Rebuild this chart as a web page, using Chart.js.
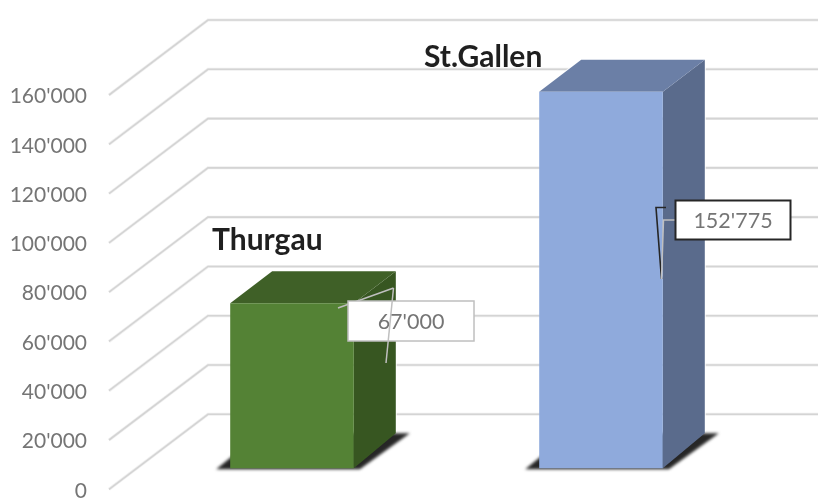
<!DOCTYPE html>
<html>
<head>
<meta charset="utf-8">
<style>html,body{margin:0;padding:0;background:#fff}canvas{display:block}</style>
<script src="https://cdn.jsdelivr.net/npm/chart.js@4"></script>
</head>
<body>
<canvas id="c" width="818" height="498"></canvas>
<script>
const categories = ['Thurgau', 'St.Gallen'];
const values = [67000, 152775];
const tickValues = [0, 20000, 40000, 60000, 80000, 100000, 120000, 140000, 160000];
const frontColors = ['#548235', '#8faadc'];
const topColors = ['#3f6027', '#6b7fa6'];
const sideColors = ['#375621', '#5a6b8c'];
const labelBorders = ['#bfbfbf', '#262626'];

const fmt = v => String(v).replace(/\B(?=(\d{3})+$)/g, "'");
const FONT = 'Lato, Carlito, "Open Sans", sans-serif';
const WALL = { dx: 99, dy: -75 };
const BAR = { dx: 42, topDy: -32, bottomDy: -35 };
const BAR_PLANE_SHIFT = 8500; // value units: bars stand further back than the labelled front edge

function poly(ctx, pts, fill) {
  ctx.beginPath();
  pts.forEach((p, i) => i ? ctx.lineTo(p[0], p[1]) : ctx.moveTo(p[0], p[1]));
  ctx.closePath();
  ctx.fillStyle = fill;
  ctx.fill();
}
function line(ctx, pts, color, w) {
  ctx.beginPath();
  pts.forEach((p, i) => i ? ctx.lineTo(p[0], p[1]) : ctx.moveTo(p[0], p[1]));
  ctx.strokeStyle = color;
  ctx.lineWidth = w;
  ctx.lineJoin = 'miter';
  ctx.stroke();
}

const cube = {
  id: 'cube',
  beforeDatasetsDraw(chart) {
    const ctx = chart.ctx, y = chart.scales.y;
    ctx.save();
    tickValues.forEach(v => {
      const py = y.getPixelForValue(v);
      const x0 = chart.chartArea.left - 28.5;
      ctx.lineCap = 'butt';
      const pts = [[x0, py], [x0 + WALL.dx, py + WALL.dy], [chart.width, py + WALL.dy]];
      line(ctx, pts, 'rgba(190,190,190,0.25)', 3);
      line(ctx, pts, '#d4d4d4', 1.6);
    });
    const bars = chart.getDatasetMeta(0).data;
    bars.forEach((b, i) => {
      const l = b.x - b.width / 2, r = b.x + b.width / 2, t = b.y, base = b.base;
      ctx.save();
      ctx.filter = 'blur(1.4px)';
      poly(ctx, [[l - 14, base + 1], [r + 6, base + 1], [r + 56, base + BAR.bottomDy], [l + 30, base + BAR.bottomDy]], '#262626');
      ctx.restore();
      const side = [[r, t], [r + BAR.dx, t + BAR.topDy], [r + BAR.dx, base + BAR.bottomDy], [r, base]];
      const top = [[l, t], [l + BAR.dx, t + BAR.topDy], [r + BAR.dx, t + BAR.topDy], [r, t]];
      ctx.save();
      ctx.strokeStyle = 'rgba(255,255,255,0.85)';
      ctx.lineWidth = 2;
      ctx.beginPath();
      ctx.moveTo(l, t); ctx.lineTo(l + BAR.dx, t + BAR.topDy); ctx.lineTo(r + BAR.dx, t + BAR.topDy);
      ctx.lineTo(r + BAR.dx, base + BAR.bottomDy - 2);
      ctx.stroke();
      ctx.restore();
      poly(ctx, side, sideColors[i]);
      poly(ctx, top, topColors[i]);
    });
    ctx.restore();
  },
  afterDatasetsDraw(chart) {
    const ctx = chart.ctx;
    ctx.save();
    ctx.textBaseline = 'middle';
    ctx.font = 'bold 30px ' + FONT;
    ctx.fillStyle = '#1f1f1f';
    ctx.textAlign = 'left';
    const nameAnchors = [[212, 240], [424, 57]];
    categories.forEach((c, i) => ctx.fillText(c, nameAnchors[i][0], nameAnchors[i][1]));

    line(ctx, [[338, 308], [393.5, 288]], '#bfbfbf', 1.5);
    ctx.fillStyle = '#fff';
    ctx.fillRect(348, 301, 126, 40);
    ctx.strokeStyle = labelBorders[0];
    ctx.lineWidth = 1.5;
    ctx.strokeRect(348, 301, 126, 40);
    ctx.font = '21.5px ' + FONT;
    ctx.textAlign = 'center';
    ctx.fillStyle = '#757575';
    ctx.fillText(fmt(values[0]), 411, 322);
    line(ctx, [[393.5, 288], [386, 363]], '#bfbfbf', 1.5);

    line(ctx, [[666, 207.5], [656, 207.5], [661.5, 279]], '#262626', 1.6);
    line(ctx, [[675, 220], [663.5, 220], [661.5, 279]], '#bfbfbf', 1.5);
    ctx.fillStyle = '#fff';
    ctx.fillRect(675.5, 200.5, 115, 39);
    ctx.strokeStyle = labelBorders[1];
    ctx.lineWidth = 2;
    ctx.strokeRect(675.5, 200.5, 115, 39);
    ctx.fillStyle = '#757575';
    ctx.fillText(fmt(values[1]), 733, 221.5);
    ctx.restore();
  }
};

new Chart(document.getElementById('c'), {
  type: 'bar',
  data: {
    labels: categories,
    datasets: [{
      data: values,
      yAxisID: 'yBar',
      backgroundColor: frontColors,
      borderWidth: 0,
      barPercentage: 0.4,
      categoryPercentage: 1,
      clip: false
    }]
  },
  options: {
    responsive: false,
    animation: false,
    layout: { padding: { top: 95, bottom: 8.7, left: 0, right: 62.5 } },
    plugins: { legend: { display: false }, title: { display: false }, tooltip: { enabled: false } },
    scales: {
      x: { display: false },
      y: {
        position: 'left',
        min: 0,
        max: 160000,
        afterFit(s) { s.width = 137.5; s.paddingTop = 0; s.paddingBottom = 0; },
        afterBuildTicks(s) { s.ticks = tickValues.map(v => ({ value: v })); },
        grid: { display: false, drawTicks: true, tickLength: 50.5 },
        border: { display: false },
        ticks: {
          padding: 0,
          labelOffset: 1.5,
          color: '#757575',
          font: { family: FONT, size: 21 },
          callback: v => fmt(v)
        }
      },
      yBar: {
        display: false,
        position: 'left',
        min: -BAR_PLANE_SHIFT,
        max: 160000 - BAR_PLANE_SHIFT
      }
    }
  },
  plugins: [cube]
});
</script>
</body>
</html>
